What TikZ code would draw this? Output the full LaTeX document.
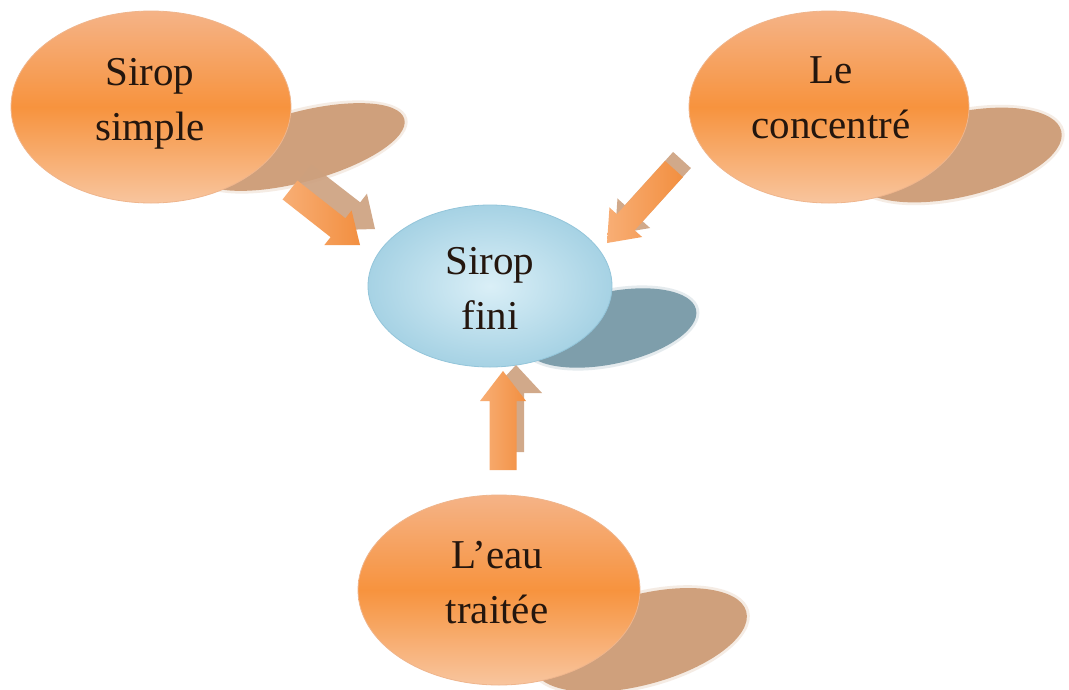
\documentclass[tikz,border=0pt]{standalone}
\usepackage{fontspec}
\setmainfont{Liberation Serif}
\usetikzlibrary{shapes.geometric,calc}
\definecolor{peachT}{HTML}{F5B387}
\definecolor{peachB}{HTML}{F8C59E}
\definecolor{orMid}{HTML}{F7933E}
\definecolor{rimO}{HTML}{EFB58C}
\definecolor{orShadow}{HTML}{CFA07C}
\definecolor{blueIn}{HTML}{DAEFF7}
\definecolor{blueOut}{HTML}{A6D2E4}
\definecolor{rimB}{HTML}{93C5DA}
\definecolor{blShadow}{HTML}{7E9EAB}
\definecolor{arrA}{HTML}{F8AE75}
\definecolor{arrB}{HTML}{F28F40}
\definecolor{arrShade}{HTML}{CDA07E}
\definecolor{txt}{HTML}{24160E}
\newcommand\barrow[6]{%
  \coordinate (#2-B) at ($(#3)!#6!(#2)$);
  \path[#1] ($(#2)!#4!90:(#3)$) -- ($(#2-B)!#4!90:(#3)$) -- ($(#2-B)!#5!90:(#3)$)
    -- (#3) -- ($(#2-B)!#5!-90:(#3)$) -- ($(#2-B)!#4!-90:(#3)$)
    -- ($(#2)!#4!-90:(#3)$) -- cycle;}
\tikzset{
  blob/.style={ellipse, inner sep=0pt, draw=rimO, line width=0.8pt,
    top color=peachT, bottom color=peachB, middle color=orMid},
  finiblob/.style={ellipse, inner sep=0pt, draw=rimB, line width=0.8pt,
    inner color=blueIn, outer color=blueOut},
  lbl/.style={align=center, font=\fontsize{41pt}{55pt}\selectfont, text=txt, inner sep=0pt},
  shO/.style={fill=orShadow},
  shOsoft/.style={fill=orShadow, opacity=0.2},
  shB/.style={fill=blShadow},
  shBsoft/.style={fill=blShadow, opacity=0.2},
  arrfront/.style={left color=arrA, right color=arrB},
  arrshadow/.style={fill=arrShade, opacity=0.9},
}
\begin{document}
\begin{tikzpicture}[x=1pt,y=-1pt]
\useasboundingbox[fill=white] (0,0) rectangle (1069,689);
% shadows of ellipses
\fill[shOsoft, rotate around={15:(300,147)}] (300,147) ellipse [x radius=111pt, y radius=38pt];
\fill[shO, rotate around={15:(300,147)}] (300,147) ellipse [x radius=108pt, y radius=35pt];
\fill[shOsoft, rotate around={13:(958,155)}] (958,155) ellipse [x radius=109pt, y radius=45pt];
\fill[shO, rotate around={13:(958,155)}] (958,155) ellipse [x radius=106pt, y radius=42pt];
\fill[shBsoft, rotate around={12:(610,328)}] (610,328) ellipse [x radius=91pt, y radius=39pt];
\fill[shB, rotate around={12:(610,328)}] (610,328) ellipse [x radius=88pt, y radius=36pt];
\fill[shOsoft, rotate around={15:(640,640)}] (640,640) ellipse [x radius=113pt, y radius=48pt];
\fill[shO, rotate around={15:(640,640)}] (640,640) ellipse [x radius=110pt, y radius=45pt];
% ellipses
\node[blob, minimum width=280pt, minimum height=192pt] (simple) at (151,107) {};
\node[blob, minimum width=280pt, minimum height=192pt] (conc) at (829,107) {};
\node[finiblob, minimum width=244pt, minimum height=162pt] (fini) at (490,286) {};
\node[blob, minimum width=282pt, minimum height=190pt] (eau) at (499,590) {};
% labels
\node[lbl] (tsimple) at (150,101.5) {\strut Sirop\\\strut simple};
\node[lbl] (tconc) at (831,99.5) {\strut Le\\\strut concentr\'e};
\node[lbl] (tfini) at (490,291) {\strut Sirop\\\strut fini};
\node[lbl] (teau) at (497,584.5) {\strut L’eau\\\strut trait\'ee};
% arrows
\coordinate (a1st) at (304,174); \coordinate (a1sh) at (375,229);
\coordinate (a1t) at (290,190); \coordinate (a1h) at (360,245);
\coordinate (a2st) at (682,160); \coordinate (a2sh) at (615,234);
\coordinate (a2t) at (674,169); \coordinate (a2h) at (607,243);
\coordinate (a3st) at (516,452); \coordinate (a3sh) at (516,365);
\coordinate (a3t) at (503,470); \coordinate (a3h) at (503,371);
\barrow{arrshadow}{a1st}{a1sh}{12pt}{23pt}{28pt}
\barrow{arrfront}{a1t}{a1h}{12pt}{22pt}{28pt}
\barrow{arrshadow}{a2st}{a2sh}{12pt}{22pt}{28pt}
\barrow{arrfront}{a2t}{a2h}{12pt}{22pt}{28pt}
\barrow{arrshadow}{a3st}{a3sh}{8pt}{26pt}{28pt}
\barrow{arrfront}{a3t}{a3h}{13.5pt}{23pt}{30pt}
\end{tikzpicture}
\end{document}
